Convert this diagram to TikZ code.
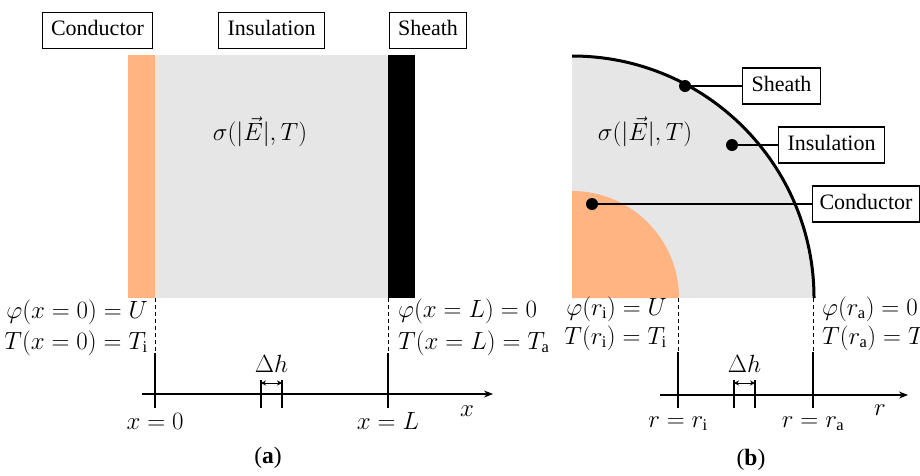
\documentclass[tikz,border=0pt]{standalone}
\usepackage{fontspec}
\setmainfont{Liberation Serif}
\usetikzlibrary{arrows.meta}
\definecolor{cond}{RGB}{255,180,130}
\definecolor{ins}{RGB}{230,230,230}
\begin{document}
\begin{tikzpicture}[x=1pt,y=-1pt,
  font=\fontsize{22}{26}\selectfont,
  lbl/.style={draw,line width=1.1pt,inner xsep=9pt,inner ysep=0pt,minimum height=36pt,text height=15pt,text depth=5pt},
  dot/.style={circle,fill=black,inner sep=0pt,minimum size=12pt},
  axis/.style={line width=1.1pt,-{Stealth[length=9pt,width=7pt]}},
  thin/.style={line width=1.1pt},
  dashln/.style={line width=1pt,dash pattern=on 4pt off 3pt},
  mth/.style={inner sep=0pt,font=\fontsize{23.5}{28}\selectfont}]
\useasboundingbox (0,0) rectangle (920,475);

% ---------- (a) ----------
\fill[cond] (128,55) rectangle (155,298);
\fill[ins] (155,55) rectangle (388,298);
\fill[black] (388,55) rectangle (415,298);

\node[lbl] (ca) at (97.5,30.5) {Conductor};
\node[lbl] (ia) at (271.5,30.5) {Insulation};
\node[lbl] (sa) at (428,30.5) {Sheath};

\node[mth] (siga) at (260,132) {$\sigma\bigl(\bigl|\vec{E}\bigr|,T\bigr)$};

\coordinate (a0t) at (155,298); \coordinate (a0m) at (155,353); \coordinate (a0b) at (155,408);
\coordinate (aLt) at (388,298); \coordinate (aLm) at (388,353); \coordinate (aLb) at (388,408);
\draw[dashln] (a0t) -- (a0m);
\draw[thin] (a0m) -- (a0b);
\draw[dashln] (aLt) -- (aLm);
\draw[thin] (aLm) -- (aLb);

\coordinate (axa0) at (142,394); \coordinate (axa1) at (493,394);
\draw[axis] (axa0) -- (axa1);

\coordinate (ha1t) at (261,380); \coordinate (ha1b) at (261,408);
\coordinate (ha2t) at (282,380); \coordinate (ha2b) at (282,408);
\draw[thin] (ha1t) -- (ha1b);
\draw[thin] (ha2t) -- (ha2b);
\draw[line width=0.9pt,{Stealth[length=5pt,width=5pt]}-{Stealth[length=5pt,width=5pt]}] ([yshift=-3pt]ha1t) -- ([yshift=-3pt]ha2t);
\node[mth,anchor=base] (dha) at (271.5,372) {$\Delta h$};

\node[mth,anchor=base east] (phia) at (148,318) {$\varphi(x=0)=U$};
\node[mth,anchor=base east] (Ta) at (148,349) {$T(x=0)=T_{\mathrm{i}}$};
\node[mth,anchor=base west] (phiaL) at (398,317) {$\varphi(x=L)=0$};
\node[mth,anchor=base west] (TaL) at (398,349) {$T(x=L)=T_{\mathrm{a}}$};

\node[mth,anchor=base] (x0) at (155,429) {$x=0$};
\node[mth,anchor=base] (xL) at (388,429) {$x=L$};
\node[mth,anchor=base] (xa) at (467,416) {$x$};
\node[mth,anchor=base] (capa) at (268,463) {(\textbf{a})};

% ---------- (b) ----------
\coordinate (O) at (572,298);
\fill[ins] (O) -- (572,56) arc[start angle=-90,end angle=0,radius=242] -- cycle;
\fill[cond] (O) -- (572,191) arc[start angle=-90,end angle=0,radius=107] -- cycle;
\draw[line width=3pt] (572,56) arc[start angle=-90,end angle=0,radius=242];

\node[mth] (sigb) at (645,132) {$\sigma\bigl(\bigl|\vec{E}\bigr|,T\bigr)$};

\node[dot] (sd) at (685,86) {};
\node[dot] (id) at (732,145) {};
\node[dot] (cd) at (592,204) {};
\node[lbl,anchor=west] (sb) at (742,86) {Sheath};
\node[lbl,anchor=west] (ib) at (778,145) {Insulation};
\node[lbl,anchor=west,inner xsep=7pt] (cb) at (812,204) {Conductor};
\draw[thin] (sd.center) -- (sb.west);
\draw[thin] (id.center) -- (ib.west);
\draw[thin] (cd.center) -- (cb.west);

\coordinate (bit) at (678,298); \coordinate (bim) at (678,352); \coordinate (bib) at (678,408);
\coordinate (bat) at (813,298); \coordinate (bam) at (813,352); \coordinate (bab) at (813,408);
\draw[dashln] (bit) -- (bim);
\draw[thin] (bim) -- (bib);
\draw[dashln] (bat) -- (bam);
\draw[thin] (bam) -- (bab);

\coordinate (axb0) at (660,395); \coordinate (axb1) at (908,395);
\draw[axis] (axb0) -- (axb1);

\coordinate (hb1t) at (734,380); \coordinate (hb1b) at (734,408);
\coordinate (hb2t) at (755,380); \coordinate (hb2b) at (755,408);
\draw[thin] (hb1t) -- (hb1b);
\draw[thin] (hb2t) -- (hb2b);
\draw[line width=0.9pt,{Stealth[length=5pt,width=5pt]}-{Stealth[length=5pt,width=5pt]}] ([yshift=-3pt]hb1t) -- ([yshift=-3pt]hb2t);
\node[mth,anchor=base] (dhb) at (744.5,372) {$\Delta h$};

\node[mth,anchor=base east] (phib) at (667,315) {$\varphi(r_{\mathrm{i}})=U$};
\node[mth,anchor=base east] (Tb) at (667,344) {$T(r_{\mathrm{i}})=T_{\mathrm{i}}$};
\node[mth,anchor=base west] (phibA) at (822,315) {$\varphi(r_{\mathrm{a}})=0$};
\node[mth,anchor=base west] (TbA) at (822,344) {$T(r_{\mathrm{a}})=T_{\mathrm{a}}$};

\node[mth,anchor=base] (ri) at (678,427) {$r=r_{\mathrm{i}}$};
\node[mth,anchor=base] (ra) at (813,427) {$r=r_{\mathrm{a}}$};
\node[mth,anchor=base] (rb) at (880,415) {$r$};
\node[mth,anchor=base] (capb) at (751,465) {(\textbf{b})};
\end{tikzpicture}
\end{document}
